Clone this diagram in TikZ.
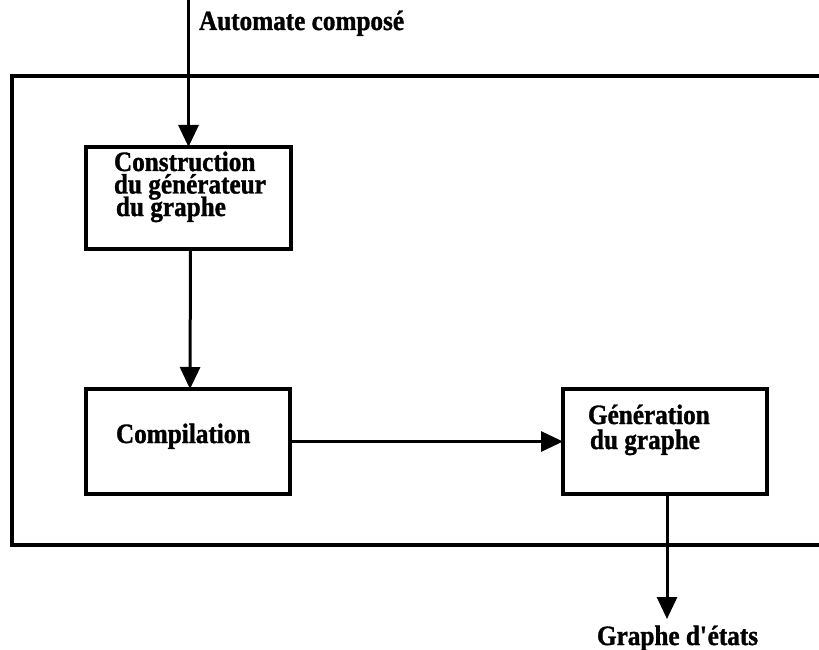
\documentclass[tikz,border=0pt]{standalone}
\usepackage{fontspec}
\setmainfont{Liberation Serif}[FakeStretch=0.9, BoldFeatures={FakeBold=1.2}]
\usetikzlibrary{arrows.meta}

% stacked lines with a fixed baseline distance; baseline = first line
\newcommand{\linestack}[2]{\vtop{\baselineskip=#1\lineskiplimit=-100pt\lineskip=0pt #2}}

\begin{document}
\begin{tikzpicture}[x=1pt,y=-1pt,
  every node/.style={inner sep=0pt, outer sep=0pt},
  stepbox/.style={draw, line width=3.8pt, rectangle},
  frame/.style={line width=3.8pt},
  label/.style={font=\fontsize{28}{23}\selectfont\bfseries, anchor=base west},
  flow/.style={-{Triangle[length=22pt,width=20pt]}, line width=3pt}]
  \useasboundingbox (0,0) rectangle (819,650);

  % surrounding frame, open towards the right
  \draw[frame] (830,76) -- (12,76) -- (12,545) -- (830,545);

  % processing steps
  \node[stepbox, minimum width=205pt, minimum height=102pt] (gen) at (188.5,198) {};
  \node[stepbox, minimum width=204pt, minimum height=105pt] (comp) at (188,441.5) {};
  \node[stepbox, minimum width=204pt, minimum height=105pt] (exec) at (665,441.5) {};

  % texts
  \node[label] (tin) at (199,30) {Automate composé};
  \node[label] (tgen) at (114,171) {\linestack{22.5pt}{\hbox{Construction}\hbox{du générateur}\hbox{\kern2pt du graphe}}};
  \node[label] (tcomp) at (116,443) {Compilation};
  \node[label] (texec) at (588,424) {\linestack{25pt}{\hbox{Génération}\hbox{\kern2pt du graphe}}};
  \node[label] (tout) at (597,645) {Graphe d\textquotesingle états};

  % ends of the open connectors
  \coordinate (in) at (188.5,-2);
  \coordinate (out) at (667,619);

  % connectors
  \draw[flow] (in) -- (gen.north);
  \draw[flow] ([xshift=2pt]gen.south) -- ([xshift=2pt]comp.north);
  \draw[flow] (comp.east) -- (exec.west);
  \draw[flow] ([xshift=2pt]exec.south) -- (out);
\end{tikzpicture}
\end{document}
